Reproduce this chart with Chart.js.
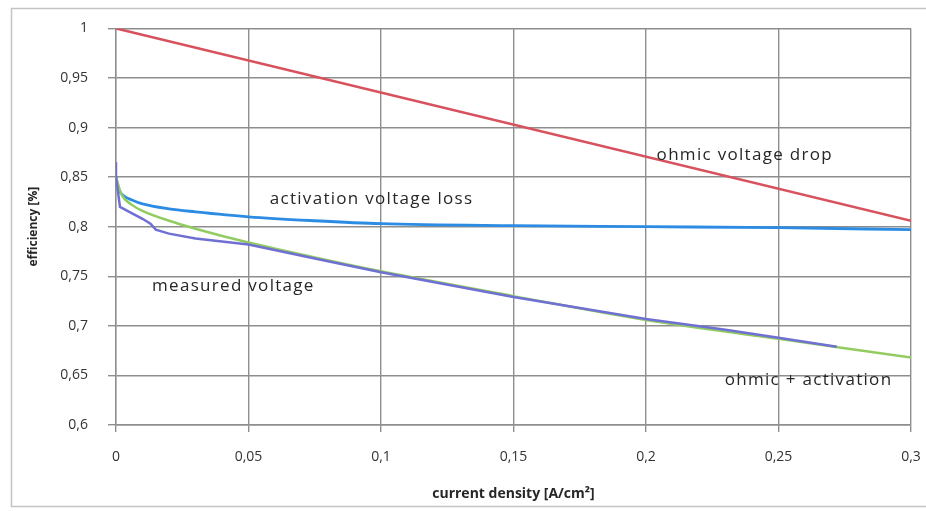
<!DOCTYPE html>
<html>
<head>
<meta charset="utf-8">
<script src="https://cdn.jsdelivr.net/npm/chart.js@4"></script>
<style>
  html, body { margin: 0; padding: 0; background: #fff; overflow: hidden; }
  #wrap { width: 926px; height: 511px; }
  canvas { display: block; }
</style>
</head>
<body>
<div id="wrap"><canvas id="myChart" width="926" height="511"></canvas></div>
<script>
// current density [A/cm2] and efficiency for each curve
const ohmicX = [0, 0.3];
const ohmicY = [1, 0.806];

const activationX = [0, 0.001, 0.003, 0.006, 0.01, 0.02, 0.03, 0.05, 0.075, 0.1, 0.15, 0.2, 0.25, 0.3];
const activationY = [0.85, 0.838, 0.831, 0.827, 0.823, 0.818, 0.815, 0.810, 0.806, 0.803, 0.801, 0.800, 0.799, 0.797];

const combinedX = [0, 0.002, 0.006, 0.01, 0.02, 0.03, 0.05, 0.075, 0.1, 0.15, 0.2, 0.25, 0.3];
const combinedY = [0.85, 0.833, 0.822, 0.816, 0.806, 0.798, 0.784, 0.769, 0.755, 0.730, 0.706, 0.687, 0.668];

const measuredX = [0, 0, 0.0015, 0.005, 0.01, 0.013, 0.015, 0.02, 0.03, 0.04, 0.05, 0.075, 0.1, 0.15, 0.2, 0.23, 0.25, 0.272];
const measuredY = [0.865, 0.85, 0.82, 0.815, 0.808, 0.803, 0.797, 0.793, 0.788, 0.785, 0.782, 0.768, 0.754, 0.729, 0.707, 0.696, 0.688, 0.679];

// curve captions, placed in data coordinates (left edge, vertical middle)
const captionText = ['ohmic voltage drop', 'activation voltage loss', 'measured voltage', 'ohmic + activation'];
const captionX = [0.204, 0.058, 0.0136, 0.2297];
const captionY = [0.872, 0.828, 0.740, 0.645];

const toPoints = (xs, ys) => xs.map((x, i) => ({x: x, y: ys[i]}));
const comma = v => (Math.round(v * 100) / 100).toString().replace('.', ',');

//Outer frame (top, left and bottom edges)
const frame = {
    id: 'frame',
    beforeDraw: chart => {
        const ctx = chart.ctx;
        ctx.save();
        ctx.fillStyle = '#fff';
        ctx.fillRect(0, 0, chart.width, chart.height);
        ctx.strokeStyle = '#c4c4c4';
        ctx.lineWidth = 1.5;
        ctx.beginPath();
        ctx.moveTo(chart.width, 8.5);
        ctx.lineTo(11.5, 8.5);
        ctx.lineTo(11.5, 506.5);
        ctx.lineTo(chart.width, 506.5);
        ctx.stroke();
        ctx.restore();
    }
};

//Captions next to the curves
const captions = {
    id: 'captions',
    afterDatasetsDraw: chart => {
        const ctx = chart.ctx;
        const xs = chart.scales.x, ys = chart.scales.y;
        ctx.save();
        ctx.font = "17px 'Open Sans', sans-serif";
        ctx.letterSpacing = '1.3px';
        ctx.fillStyle = '#262626';
        ctx.textAlign = 'left';
        ctx.textBaseline = 'middle';
        captionText.forEach((t, i) => {
            ctx.fillText(t, xs.getPixelForValue(captionX[i]), ys.getPixelForValue(captionY[i]));
        });
        ctx.restore();
    }
};

const gridColor = '#8e8e8e';
const tickFont = {family: "'Open Sans', sans-serif", size: 14};

const config = {
    type: 'scatter',
    data: {
        datasets: [
            {
                label: 'measured voltage',
                data: toPoints(measuredX, measuredY),
                borderColor: 'rgb(112,112,212)',
                borderWidth: 2.5,
                showLine: true,
                order: 0
            },
            {
                label: 'ohmic + activation',
                data: toPoints(combinedX, combinedY),
                borderColor: 'rgb(146,204,96)',
                borderWidth: 2.5,
                showLine: true,
                cubicInterpolationMode: 'monotone',
                order: 1
            },
            {
                label: 'activation voltage loss',
                data: toPoints(activationX, activationY),
                borderColor: 'rgb(44,140,228)',
                borderWidth: 2.8,
                showLine: true,
                cubicInterpolationMode: 'monotone',
                order: 2
            },
            {
                label: 'ohmic voltage drop',
                data: toPoints(ohmicX, ohmicY),
                borderColor: 'rgb(216,82,94)',
                borderWidth: 2.5,
                showLine: true,
                order: 3
            }
        ]
    },
    options: {
        responsive: false,
        animation: false,
        elements: {point: {radius: 0, hoverRadius: 0}},
        layout: {padding: {left: 0, top: 28, right: 15, bottom: 0}},
        scales: {
            x: {
                type: 'linear',
                min: 0,
                max: 0.3,
                afterFit: scale => {
                    scale.height = 86;
                    // tick padding would otherwise widen the right margin
                    scale.paddingLeft = 0;
                    scale.paddingRight = 0;
                },
                ticks: {
                    stepSize: 0.05,
                    color: '#333',
                    font: tickFont,
                    padding: 17,
                    maxRotation: 0,
                    callback: v => comma(v)
                },
                grid: {color: gridColor, lineWidth: 1.4, tickLength: 7},
                border: {color: gridColor, width: 1.4},
                title: {
                    display: true,
                    text: 'current density [A/cm²]',
                    color: '#262626',
                    font: {family: "'Open Sans', sans-serif", size: 14, weight: 'bold'},
                    padding: {bottom: 9}
                }
            },
            y: {
                min: 0.6,
                max: 1,
                afterFit: scale => { scale.width = 116; },
                ticks: {
                    stepSize: 0.05,
                    color: '#333',
                    font: tickFont,
                    padding: 20,
                    callback: v => comma(v)
                },
                grid: {color: gridColor, lineWidth: 1.4, tickLength: 8},
                border: {color: gridColor, width: 1.4},
                title: {
                    display: true,
                    text: 'efficiency [%]',
                    color: '#262626',
                    font: {family: "'Open Sans', sans-serif", size: 12, weight: 'bold'},
                    padding: {top: 26}
                }
            }
        },
        plugins: {
            legend: {display: false},
            tooltip: {enabled: false}
        }
    },
    plugins: [frame, captions]
};

const myChart = new Chart(document.getElementById('myChart').getContext('2d'), config);
</script>
</body>
</html>
